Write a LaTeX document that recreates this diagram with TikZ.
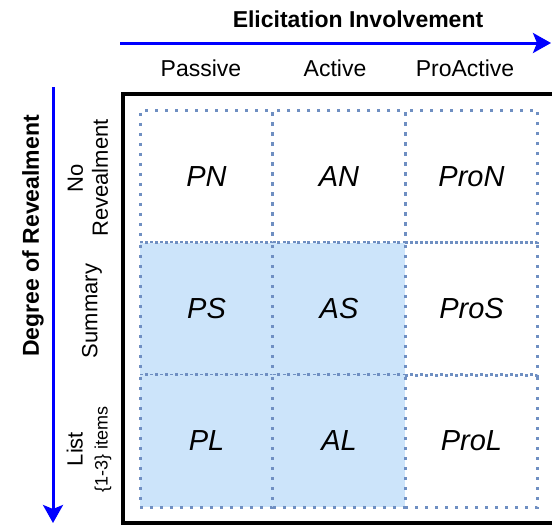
\documentclass[tikz,border=0pt]{standalone}
\usepackage{fontspec}
\setmainfont{Liberation Sans}
\usetikzlibrary{arrows.meta,positioning}

\definecolor{gridblue}{HTML}{6F8FC2}
\definecolor{cellblue}{HTML}{CCE4FA}

\begin{document}
\begin{tikzpicture}[x=1pt,y=-1pt,
    cell/.style={minimum width=132.5pt,minimum height=132.5pt,inner sep=0pt,
      draw=gridblue,line width=3pt,dash pattern=on 3pt off 7pt,
      font=\fontsize{29}{33}\selectfont\itshape},
    shaded/.style={cell,fill=cellblue},
    axis/.style={-{Stealth[length=18pt,width=20pt,inset=4pt]},blue,line width=3pt},
    head/.style={font=\fontsize{23}{27}\selectfont},
    rowlbl/.style={rotate=90,align=center,font=\fontsize{22}{25}\selectfont}]
    \clip (0,0) rectangle (552,525);

    % Frame
    \draw[line width=4pt] (123,93.5) rectangle (570,523);

    % Cells
    \node[cell]   (PN)   at (206.5,176.5) {PN};
    \node[cell]   (AN)   at (339,176.5)   {AN};
    \node[cell]   (ProN) at (471.5,176.5) {ProN};
    \node[shaded] (PS)   at (206.5,309)   {PS};
    \node[shaded] (AS)   at (339,309)     {AS};
    \node[cell]   (ProS) at (471.5,309)   {ProS};
    \node[shaded] (PL)   at (206.5,441)   {PL};
    \node[shaded] (AL)   at (339,441)     {AL};
    \node[cell]   (ProL) at (471.5,441)   {ProL};

    % Horizontal axis
    \coordinate (hstart) at (120,43);
    \coordinate (hend) at (551,43);
    \draw[axis] (hstart) -- (hend);
    \node[head,font=\fontsize{23}{27}\selectfont\bfseries] (elicit) at (358,19) {Elicitation Involvement};
    \node[head] (passive) at (201,68) {Passive};
    \node[head] (active) at (335,68) {Active};
    \node[head] (proactive) at (465,68) {ProActive};

    % Vertical axis
    \coordinate (vstart) at (53,87);
    \coordinate (vend) at (53,523);
    \draw[axis] (vstart) -- (vend);
    \node[rotate=90,font=\fontsize{23}{27}\selectfont\bfseries] (degree) at (33,236) {Degree of Revealment};
    \node[rowlbl] (none) at (88,178) {No\\Revealment};
    \node[rowlbl] (summary) at (92,311) {Summary};
    \node[rowlbl] (list) at (89,449) {List\\{\fontsize{18}{20}\selectfont\{1-3\} items}};
\end{tikzpicture}
\end{document}
